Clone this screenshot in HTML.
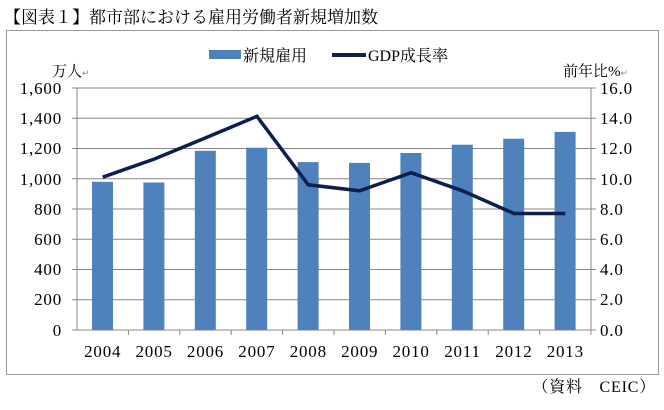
<!DOCTYPE html>
<html><head><meta charset="utf-8"><style>
body{margin:0;background:#fff;width:664px;height:405px;overflow:hidden}
svg text{font-family:"Liberation Serif","Noto Serif CJK SC",serif}
.n{letter-spacing:0.8px}
</style></head><body>
<svg width="664" height="405" xmlns="http://www.w3.org/2000/svg">
<text x="4" y="23" font-size="17" font-family="Liberation Sans, Noto Sans CJK JP, sans-serif">【図表１】都市部における雇用労働者新規増加数</text>
<rect x="6.5" y="30.5" width="652" height="344" fill="none" stroke="#999"/>
<g stroke="#888" stroke-width="1">
<line x1="72" y1="88" x2="596" y2="88"/><line x1="72" y1="118.25" x2="596" y2="118.25"/>
<line x1="72" y1="148.5" x2="596" y2="148.5"/><line x1="72" y1="178.75" x2="596" y2="178.75"/>
<line x1="72" y1="209" x2="596" y2="209"/><line x1="72" y1="239.25" x2="596" y2="239.25"/>
<line x1="72" y1="269.5" x2="596" y2="269.5"/><line x1="72" y1="299.75" x2="596" y2="299.75"/>
<line x1="72" y1="330" x2="596" y2="330"/>
<line x1="77" y1="88" x2="77" y2="330"/><line x1="591" y1="88" x2="591" y2="330"/>
<line x1="128.4" y1="330" x2="128.4" y2="335"/><line x1="179.8" y1="330" x2="179.8" y2="335"/>
<line x1="231.2" y1="330" x2="231.2" y2="335"/><line x1="282.6" y1="330" x2="282.6" y2="335"/>
<line x1="334" y1="330" x2="334" y2="335"/><line x1="385.4" y1="330" x2="385.4" y2="335"/>
<line x1="436.8" y1="330" x2="436.8" y2="335"/><line x1="488.2" y1="330" x2="488.2" y2="335"/>
<line x1="539.6" y1="330" x2="539.6" y2="335"/><line x1="591" y1="330" x2="591" y2="335"/>
</g>
<g fill="#4f81bd">
<rect x="92" y="181.8" width="21" height="148.2"/>
<rect x="143.4" y="182.5" width="21" height="147.5"/>
<rect x="194.8" y="150.8" width="21" height="179.2"/>
<rect x="246.2" y="147.7" width="21" height="182.3"/>
<rect x="297.6" y="162.1" width="21" height="167.9"/>
<rect x="349" y="162.9" width="21" height="167.1"/>
<rect x="400.4" y="153" width="21" height="177"/>
<rect x="451.8" y="144.7" width="21" height="185.3"/>
<rect x="503.2" y="138.7" width="21" height="191.3"/>
<rect x="554.6" y="131.9" width="21" height="198.1"/>
</g>
<polyline fill="none" stroke="#0d1f4f" stroke-width="3.5" stroke-linejoin="miter" points="102.7,177.2 154.1,159.1 205.5,137.9 256.9,116.3 308.3,184.8 359.7,190.8 411.1,172.7 462.5,190.8 513.9,213.5 565.3,213.5"/>
<g font-size="17" text-anchor="end" class="n">
<text x="62" y="94">1,600</text><text x="62" y="124">1,400</text><text x="62" y="154">1,200</text>
<text x="62" y="185">1,000</text><text x="62" y="215">800</text><text x="62" y="245">600</text>
<text x="62" y="275">400</text><text x="62" y="305">200</text><text x="62" y="336">0</text>
</g>
<g font-size="17" text-anchor="start" class="n">
<text x="600" y="94">16.0</text><text x="600" y="124">14.0</text><text x="600" y="154">12.0</text>
<text x="600" y="185">10.0</text><text x="600" y="215">8.0</text><text x="600" y="245">6.0</text>
<text x="600" y="275">4.0</text><text x="600" y="305">2.0</text><text x="600" y="336">0.0</text>
</g>
<g font-size="17" text-anchor="middle" class="n">
<text x="102.7" y="357">2004</text><text x="154.1" y="357">2005</text><text x="205.5" y="357">2006</text>
<text x="256.9" y="357">2007</text><text x="308.3" y="357">2008</text><text x="359.7" y="357">2009</text>
<text x="411.1" y="357">2010</text><text x="462.5" y="357">2011</text><text x="513.9" y="357">2012</text>
<text x="565.3" y="357">2013</text>
</g>
<text x="52" y="76" font-size="15" font-family="Liberation Sans, Noto Sans CJK JP, sans-serif">万人<tspan font-size="9" fill="#888">↵</tspan></text>
<text x="563" y="76" font-size="15" font-family="Liberation Sans, Noto Sans CJK JP, sans-serif">前年比%<tspan font-size="9" fill="#888">↵</tspan></text>
<rect x="209" y="50" width="32" height="9" fill="#4f81bd"/>
<text x="243" y="61" font-size="16" font-family="Liberation Sans, Noto Sans CJK JP, sans-serif">新規雇用</text>
<line x1="332" y1="55" x2="366" y2="55" stroke="#0d1f4f" stroke-width="4"/>
<text x="368" y="61" font-size="16">GDP成長率</text>
<text x="656" y="392" font-size="16" text-anchor="end" class="n">（資料　CEIC）</text>
</svg>
</body></html>
